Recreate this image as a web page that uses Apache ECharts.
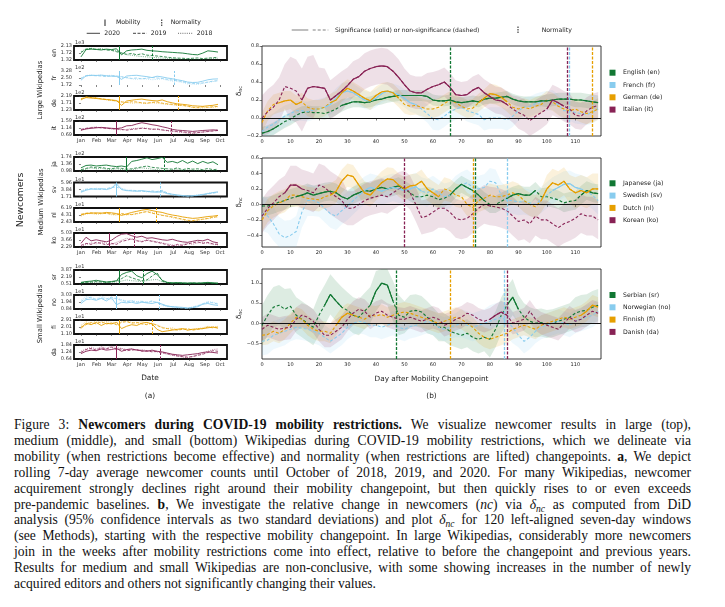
<!DOCTYPE html>
<html><head><meta charset="utf-8">
<script src="https://cdn.jsdelivr.net/npm/echarts@6/dist/echarts.min.js"></script>
<style>
html,body{margin:0;padding:0;background:#fff;}
#chart{position:absolute;left:0;top:0;width:725px;height:410px;}
#cap{position:absolute;left:14px;top:417px;width:677px;font-family:'Liberation Serif','DejaVu Serif',serif;font-size:13.6px;line-height:15.9px;color:#111;}
#cap div{text-align:justify;text-align-last:justify;}
#cap div.last{text-align-last:left;}
#cap sub{font-size:9.5px;line-height:0;vertical-align:-3px;}
</style></head>
<body>
<div id="chart"></div>
<div id="cap">
<div>Figure 3: <b>Newcomers during COVID-19 mobility restrictions.</b> We visualize newcomer results in large (top),</div>
<div>medium (middle), and small (bottom) Wikipedias during COVID-19 mobility restrictions, which we delineate via</div>
<div>mobility (when restrictions become effective) and normality (when restrictions are lifted) changepoints. <b>a</b>, We depict</div>
<div>rolling 7-day average newcomer counts until October of 2018, 2019, and 2020. For many Wikipedias, newcomer</div>
<div>acquirement strongly declines right around their mobility changepoint, but then quickly rises to or even exceeds</div>
<div>pre-pandemic baselines. <b>b</b>, We investigate the relative change in newcomers (<i>nc</i>) via <i>δ</i><sub><i>nc</i></sub> as computed from DiD</div>
<div>analysis (95% confidence intervals as two standard deviations) and plot <i>δ</i><sub><i>nc</i></sub> for 120 left-aligned seven-day windows</div>
<div>(see Methods), starting with the respective mobility changepoint. In large Wikipedias, considerably more newcomers</div>
<div>join in the weeks after mobility restrictions come into effect, relative to before the changepoint and previous years.</div>
<div>Results for medium and small Wikipedias are non-conclusive, with some showing increases in the number of newly</div>
<div class="last">acquired editors and others not significantly changing their values.</div>
</div>
<script>
// ---------- (a) rolling 7-day newcomer counts, sampled every 10 days from Jan 1 ----------
const sampleDays = [0,10,20,30,40,50,60,70,80,90,100,110,120,130,140,150,160,170,180,190,200,210,220,230,240,250,260,270];
const monthTicks = [0,31,60,91,121,152,182,213,244,274];
const monthNames = ['Jan','Feb','Mar','Apr','May','Jun','Jul','Aug','Sep','Oct'];

const en_2020 = [1.50,1.92,1.95,1.93,1.90,1.95,1.92,1.97,1.62,1.85,1.90,1.92,1.95,1.88,1.85,1.83,1.80,1.78,1.76,1.74,1.72,1.68,1.64,1.62,1.72,1.85,1.82,1.78];
const en_2019 = [1.75,1.95,1.98,1.93,1.95,1.90,1.88,1.80,1.72,1.65,1.70,1.62,1.68,1.60,1.58,1.55,1.52,1.48,1.45,1.43,1.42,1.40,1.42,1.44,1.40,1.43,1.45,1.48];
const en_2018 = [1.80,1.97,2.00,1.95,1.97,1.92,1.90,1.85,1.75,1.62,1.60,1.55,1.52,1.50,1.48,1.45,1.43,1.42,1.40,1.38,1.36,1.35,1.34,1.33,1.36,1.38,1.40,1.40];
const fr_2020 = [2.25,2.75,2.80,2.78,2.82,2.75,2.70,2.68,2.35,2.72,2.78,2.80,2.72,2.65,2.55,2.70,2.62,2.50,2.42,2.30,2.20,2.05,2.00,2.02,2.15,2.30,2.38,2.40];
const fr_2019 = [2.45,2.72,2.78,2.75,2.72,2.65,2.75,2.72,2.65,2.55,2.45,2.50,2.40,2.48,2.55,2.50,2.45,2.35,2.28,2.20,2.10,1.95,1.90,1.88,1.95,2.05,2.15,2.20];
const fr_2018 = [2.50,2.78,2.85,2.80,2.82,2.78,2.80,2.70,2.60,2.50,2.40,2.35,2.42,2.38,2.30,2.35,2.40,2.25,2.15,2.10,2.00,1.85,1.80,1.78,1.90,2.00,2.10,2.20];
const de_2020 = [1.95,2.08,2.05,2.02,1.98,1.95,1.92,1.88,1.55,1.85,1.90,1.95,1.98,1.92,1.88,1.85,1.92,1.80,1.72,1.65,1.62,1.58,1.52,1.50,1.48,1.52,1.55,1.62];
const de_2019 = [2.00,2.12,2.08,2.05,2.00,1.95,1.90,1.85,1.78,1.75,1.80,1.78,1.72,1.70,1.75,1.78,1.70,1.65,1.62,1.58,1.55,1.50,1.42,1.40,1.45,1.42,1.45,1.48];
const de_2018 = [1.90,2.15,2.10,2.08,1.98,1.92,1.88,1.82,1.80,1.75,1.70,1.72,1.70,1.68,1.72,1.70,1.65,1.62,1.58,1.55,1.52,1.48,1.40,1.36,1.38,1.40,1.42,1.45];
const it_2020 = [1.00,1.08,1.12,1.15,1.18,1.15,1.12,1.10,1.15,1.28,1.30,1.40,1.48,1.42,1.35,1.30,1.22,1.15,1.05,1.00,0.98,0.95,0.92,0.95,0.98,1.00,1.02,1.00];
const it_2019 = [1.05,1.12,1.15,1.18,1.15,1.12,1.10,1.08,1.05,1.00,1.05,1.08,1.12,1.10,1.05,1.08,1.02,0.98,0.95,0.92,0.90,0.85,0.82,0.85,0.88,0.92,0.95,0.98];
const it_2018 = [0.98,1.10,1.18,1.20,1.15,1.12,1.08,1.05,1.02,1.05,1.10,1.12,1.15,1.12,1.08,1.05,1.00,0.96,0.92,0.88,0.85,0.80,0.78,0.82,0.88,0.90,0.95,1.02];
const ja_2020 = [1.15,1.28,1.30,1.25,1.28,1.30,1.25,1.22,1.25,1.20,1.50,1.55,1.62,1.70,1.60,1.65,1.72,1.45,1.50,1.42,1.55,1.40,1.52,1.38,1.50,1.40,1.48,1.32];
const ja_2019 = [1.05,1.12,1.20,1.15,1.18,1.12,1.10,1.15,1.12,1.08,1.10,1.15,1.20,1.25,1.18,1.15,1.12,1.10,1.08,1.15,1.05,1.12,1.08,1.10,1.05,1.12,1.05,1.08];
const ja_2018 = [1.00,1.08,1.15,1.10,1.12,1.08,1.05,1.10,1.06,1.02,1.05,1.10,1.15,1.12,1.08,1.05,1.02,1.00,1.05,1.08,1.00,1.05,1.02,1.00,0.99,1.02,1.00,1.01];
const sv_2020 = [3.0,3.6,4.0,3.9,4.1,3.8,4.2,5.5,3.8,3.5,3.4,3.3,3.5,3.3,3.1,3.0,3.2,2.6,2.4,2.2,2.0,1.9,1.9,2.1,2.3,2.6,2.9,3.1];
const sv_2019 = [3.2,3.9,4.1,4.0,3.8,4.1,4.4,4.6,4.0,3.5,3.6,3.5,3.3,3.2,3.4,3.2,3.6,2.8,2.3,2.0,1.9,1.8,1.9,2.0,2.2,2.5,2.7,3.0];
const sv_2018 = [3.4,4.0,3.8,4.2,4.0,3.9,4.5,5.8,4.2,3.8,3.4,3.3,3.4,3.1,3.0,3.3,2.9,2.5,2.2,1.9,1.8,1.75,2.0,2.2,2.4,2.7,2.9,3.2];
const nl_2020 = [4.3,4.7,4.8,4.9,4.8,5.0,4.9,4.7,4.2,4.6,5.0,5.3,5.6,5.8,5.5,5.2,5.0,4.6,4.3,4.1,3.8,3.6,3.4,3.5,3.7,3.9,4.0,4.2];
const nl_2019 = [4.5,4.8,4.9,4.7,4.8,4.7,4.6,4.5,4.7,4.5,4.4,4.7,5.0,5.2,4.8,4.5,4.2,4.0,3.8,3.5,3.2,2.9,2.8,3.0,3.2,3.4,3.7,3.9];
const nl_2018 = [4.0,4.6,4.7,4.5,4.6,4.8,4.4,4.3,4.5,4.3,4.5,4.6,4.9,5.4,5.0,4.6,4.3,4.0,3.6,3.3,3.0,2.7,2.6,2.9,3.1,3.3,3.6,3.8];
const ko_2020 = [3.0,4.2,3.5,3.7,3.5,3.3,3.6,4.3,4.8,4.9,4.5,4.2,4.4,4.0,4.1,3.9,3.7,3.6,3.8,3.5,3.3,3.2,3.4,3.6,3.5,3.8,3.3,3.1];
const ko_2019 = [2.6,3.0,2.8,3.2,3.0,2.7,3.0,2.8,3.4,3.6,3.9,3.5,3.3,3.6,3.4,3.2,3.0,2.7,2.5,2.8,2.6,2.9,3.1,3.3,3.0,3.2,2.9,2.8];
const ko_2018 = [2.4,2.8,3.1,2.9,3.3,3.0,2.8,3.2,3.6,4.0,3.8,3.6,3.4,3.7,3.5,3.3,3.1,2.9,2.7,2.5,2.8,3.0,2.8,3.1,3.2,3.0,2.8,2.7];
const sr_2020 = [0.9,1.1,1.2,1.4,1.2,1.0,1.1,1.3,2.8,3.3,3.6,2.5,2.0,3.0,3.6,2.8,1.4,0.9,0.8,0.85,0.8,0.75,0.8,0.7,0.8,0.9,0.8,0.75];
const sr_2019 = [0.8,0.9,1.0,1.1,1.0,0.9,1.0,1.2,1.8,2.5,2.0,1.6,1.3,1.5,2.4,3.2,1.2,0.8,0.7,0.75,0.7,0.65,0.7,0.75,0.7,0.8,0.7,0.6];
const sr_2018 = [0.7,0.8,0.85,0.9,1.0,0.85,0.9,1.0,1.2,1.5,1.3,1.2,1.1,1.3,1.5,1.6,1.0,0.8,0.75,0.7,0.65,0.6,0.65,0.7,0.65,0.7,0.6,0.55];
const no_2020 = [1.7,2.3,2.4,2.2,2.5,2.1,2.6,1.5,1.9,1.8,1.9,1.7,1.9,1.8,1.7,1.9,1.6,1.3,1.2,1.15,1.1,1.0,1.05,1.2,1.6,1.7,1.5,1.4];
const no_2019 = [2.0,2.5,2.7,2.3,2.6,2.4,2.7,2.4,2.2,2.0,2.1,1.9,2.0,1.9,2.1,1.8,1.5,1.3,1.2,1.1,1.0,0.95,1.1,1.3,1.6,1.9,1.8,1.6];
const no_2018 = [2.2,2.8,2.6,2.4,2.9,2.5,2.3,2.6,2.3,2.1,2.2,2.0,2.1,1.8,2.0,1.9,1.4,1.2,1.1,1.0,0.95,0.9,1.2,1.4,1.7,2.0,1.9,1.7];
const fi_2020 = [1.8,2.5,2.3,2.6,2.2,2.5,2.4,2.6,1.8,2.1,2.3,2.2,2.5,2.6,2.4,1.7,1.4,1.5,1.6,1.7,1.8,1.6,1.7,1.75,1.8,1.9,2.0,1.85];
const fi_2019 = [2.0,2.3,2.6,2.4,2.7,2.4,2.5,2.3,2.6,2.7,2.5,2.6,2.4,2.3,2.5,2.2,1.9,1.8,1.7,1.6,1.7,1.8,1.6,1.7,1.8,2.0,1.9,2.0];
const fi_2018 = [2.2,2.7,2.4,2.8,2.5,2.7,2.6,2.5,2.7,2.8,2.6,2.5,2.7,2.5,2.4,2.3,2.0,1.8,1.9,1.7,1.8,1.6,1.75,1.8,1.9,2.1,2.0,2.1];
const da_2020 = [1.1,1.3,1.4,1.35,1.5,1.4,1.45,1.55,1.3,1.45,1.5,1.4,1.35,1.3,1.4,1.3,1.25,1.15,1.05,1.0,0.95,1.0,1.05,1.1,1.2,1.25,1.2,1.15];
const da_2019 = [1.2,1.45,1.55,1.4,1.6,1.5,1.65,1.45,1.5,1.35,1.4,1.45,1.3,1.35,1.25,1.3,1.2,1.1,1.0,0.9,0.85,0.8,0.85,0.95,1.05,1.2,1.35,1.3];
const da_2018 = [1.3,1.5,1.65,1.5,1.7,1.55,1.75,1.6,1.55,1.45,1.5,1.4,1.45,1.35,1.3,1.25,1.15,1.05,0.95,0.9,0.8,0.75,0.85,1.0,1.1,1.3,1.45,1.5];

// y tick labels (min, mid, max) and scale exponent of each small panel
const tk_en = ['1.32','1.72','2.13'], tk_fr = ['1.72','2.50','3.28'], tk_de = ['1.23','1.71','2.19'], tk_it = ['0.69','1.14','1.59'];
const tk_ja = ['0.98','1.36','1.74'], tk_sv = ['1.71','3.84','5.96'], tk_nl = ['2.43','4.31','6.19'], tk_ko = ['2.29','3.66','5.03'];
const tk_sr = ['0.51','2.19','3.87'], tk_no = ['0.84','1.94','3.03'], tk_fi = ['1.10','2.01','2.91'], tk_da = ['0.64','1.24','1.84'];
const codes = ['en','fr','de','it','ja','sv','nl','ko','sr','no','fi','da'];
const exps  = ['1e3','1e2','1e2','1e2','1e2','1e1','1e1','1e1','1e1','1e1','1e1','1e1'];
// day of year (2020) of mobility / normality changepoints
const mobDays  = [75,75,75,70,90,70,75,55,75,70,75,70];
const normDays = [141,183,191,177,165,156,149,105,122,155,141,156];

// ---------- (b) delta_nc for 120 windows (every 2nd day) ----------
const deltaDays = [0,2,4,6,8,10,12,14,16,18,20,22,24,26,28,30,32,34,36,38,40,42,44,46,48,50,52,54,56,58,
  60,62,64,66,68,70,72,74,76,78,80,82,84,86,88,90,92,94,96,98,100,102,104,106,108,110,112,114,116,118];
const d_en = [-0.17,-0.15,-0.12,-0.08,-0.04,-0.01,0.03,0.06,0.07,0.06, 0.06,0.05,0.07,0.10,0.14,0.16,0.18,0.18,0.17,0.18,
  0.20,0.21,0.23,0.24,0.25,0.25,0.25,0.25,0.25,0.24, 0.20,0.19,0.19,0.20,0.18,0.17,0.18,0.19,0.18,0.21,
  0.22,0.22,0.23,0.24,0.21,0.19,0.18,0.18,0.18,0.19, 0.19,0.20,0.21,0.21,0.21,0.20,0.20,0.19,0.18,0.17];
const d_fr = [-0.15,-0.10,-0.07,-0.02,0.02,0.05,0.08,0.08,0.07,0.09, 0.10,0.12,0.15,0.22,0.28,0.30,0.28,0.24,0.20,0.19,
  0.22,0.27,0.30,0.28,0.26,0.22,0.17,0.15,0.10,0.05, -0.01,-0.02,0.02,0.07,0.10,0.12,0.08,0.06,0.04,-0.02,
  0.00,0.00,0.00,-0.02,0.02,0.08,0.12,0.13,0.16,0.18, 0.19,0.20,0.15,0.08,0.08,0.06,0.05,0.04,0.06,0.10];
const d_de = [-0.05,0.08,0.15,0.17,0.19,0.20,0.15,0.18,0.12,0.10, 0.10,0.12,0.17,0.20,0.28,0.33,0.30,0.26,0.22,0.19,
  0.25,0.29,0.30,0.28,0.22,0.15,0.13,0.14,0.12,0.10, 0.10,0.12,0.16,0.20,0.17,0.13,0.10,0.11,0.17,0.22,
  0.27,0.26,0.23,0.18,0.12,0.10,0.12,0.10,0.13,0.15, 0.20,0.18,0.13,0.10,0.08,0.10,0.07,0.05,0.07,0.10];
const d_it = [0.00,0.07,0.12,0.20,0.35,0.33,0.30,0.20,0.33,0.35, 0.34,0.33,0.20,0.25,0.30,0.36,0.43,0.46,0.52,0.55,
  0.57,0.58,0.57,0.52,0.45,0.37,0.30,0.28,0.28,0.32, 0.35,0.37,0.40,0.34,0.26,0.25,0.26,0.31,0.34,0.28,
  0.24,0.20,0.19,0.15,0.10,0.06,0.03,-0.03,0.02,0.06, 0.10,0.20,0.17,0.13,0.10,0.03,0.02,0.08,0.12,0.14];
const d_ja = [-0.02,-0.02,0.00,0.03,0.05,0.08,0.10,0.12,0.15,0.12, 0.14,0.16,0.17,0.15,0.10,0.07,0.12,0.15,0.18,0.17,
  0.20,0.22,0.20,0.22,0.24,0.20,0.15,0.10,0.10,0.12, 0.10,0.06,0.08,0.12,0.20,0.26,0.22,0.18,0.12,0.05,
  0.00,0.00,0.04,0.08,0.12,0.14,0.12,0.12,0.18,0.10, 0.10,0.08,0.06,0.02,0.04,0.05,0.12,0.18,0.15,0.14];
const d_sv = [-0.12,-0.15,-0.25,-0.38,-0.43,-0.40,-0.35,-0.10,0.05,0.05, 0.02,-0.05,-0.12,-0.15,-0.08,-0.02,0.05,0.12,0.18,0.22,
  0.20,0.17,0.20,0.22,0.20,0.18,0.20,0.23,0.17,0.15, 0.20,0.15,0.10,0.12,0.20,0.25,0.28,0.22,0.20,0.22,
  0.30,0.28,0.12,0.05,0.05,0.03,0.04,0.02,0.00,0.06, 0.12,0.18,0.22,0.26,0.27,0.22,0.20,0.17,0.12,0.05];
const d_nl = [-0.20,-0.08,-0.02,0.02,0.05,0.12,0.12,0.10,0.08,0.07, 0.06,0.10,0.12,0.17,0.30,0.38,0.36,0.25,0.15,0.12,
  0.20,0.28,0.33,0.32,0.25,0.20,0.24,0.25,0.30,0.20, 0.15,0.10,0.20,0.18,0.12,0.10,0.00,-0.04,0.05,0.08,
  0.12,0.10,0.10,0.12,0.15,0.12,0.05,0.00,-0.03,0.05, 0.20,0.28,0.25,0.30,0.20,0.15,0.18,0.15,0.20,0.20];
const d_ko = [-0.15,-0.05,0.02,0.10,0.15,0.25,0.25,0.20,0.18,0.15, 0.25,0.22,0.15,0.10,0.05,-0.05,-0.05,0.00,0.05,0.08,
  0.10,0.12,0.10,0.15,0.20,0.22,0.15,0.00,-0.17,-0.15, -0.10,-0.05,-0.05,-0.10,-0.18,-0.20,-0.18,-0.12,-0.05,0.00,
  -0.02,-0.03,-0.05,-0.08,-0.15,-0.22,-0.20,-0.25,-0.15,-0.20, -0.20,-0.25,-0.30,-0.25,-0.22,-0.18,-0.12,-0.15,-0.15,-0.20];
const d_sr = [-0.05,0.20,0.40,0.45,0.35,0.42,0.20,0.10,0.00,-0.10, 0.20,0.45,0.72,0.55,0.40,0.32,0.20,0.15,0.30,0.45,
  0.80,1.00,0.95,0.55,0.20,0.15,0.30,0.32,0.28,0.15, 0.05,-0.10,-0.10,-0.20,-0.25,-0.30,-0.25,-0.35,-0.40,-0.35,
  -0.40,-0.15,0.20,0.45,0.65,0.35,0.15,0.05,0.00,0.02, -0.02,0.00,0.05,0.10,0.15,0.25,0.30,0.32,0.40,0.45];
const d_no = [-0.45,-0.42,-0.30,-0.25,-0.20,-0.15,-0.10,-0.12,-0.15,-0.20, -0.25,-0.35,-0.45,-0.35,-0.25,-0.10,0.00,0.05,0.02,-0.05,
  -0.05,-0.10,-0.05,0.00,-0.10,-0.15,-0.08,-0.05,0.00,0.05, 0.00,-0.10,-0.15,-0.10,-0.05,0.00,-0.05,-0.10,-0.05,0.00,
  0.05,0.10,0.15,0.05,-0.10,-0.30,-0.45,-0.35,-0.20,-0.10, -0.05,0.00,0.05,0.00,-0.05,0.05,0.10,0.15,0.20,0.30];
const d_fi = [-0.30,-0.28,-0.20,-0.25,-0.15,0.00,0.15,0.10,-0.05,-0.15, -0.20,-0.20,-0.25,-0.05,0.15,0.25,0.20,0.15,0.10,0.20,
  0.18,0.22,0.15,0.20,0.25,0.28,0.25,0.20,0.15,0.10, 0.05,0.00,0.05,0.10,0.15,0.10,0.00,-0.10,-0.25,-0.35,
  -0.40,-0.35,-0.30,-0.25,-0.15,-0.10,-0.05,-0.10,-0.15,-0.05, 0.00,0.05,0.10,0.15,0.10,0.15,0.20,0.30,0.45,0.40];
const d_da = [-0.15,-0.05,-0.10,-0.15,-0.12,-0.10,0.10,0.20,0.15,0.05, -0.15,-0.30,-0.30,-0.20,-0.10,0.10,0.25,0.35,0.30,0.15,
  0.25,0.30,0.20,0.15,0.10,0.10,0.15,0.10,0.05,0.10, 0.15,0.10,-0.05,0.00,0.10,0.15,0.25,0.20,0.10,0.05,
  0.10,0.20,0.28,0.20,0.00,0.05,0.10,0.30,0.10,0.00, -0.05,-0.10,-0.15,0.00,0.15,0.05,0.10,0.20,0.30,0.25];
// half width of 95% CI, per 10-day block
const hw_en = [0.07,0.07,0.07,0.06,0.06,0.06,0.06,0.06,0.06,0.06,0.07,0.08];
const hw_fr = [0.12,0.11,0.11,0.10,0.10,0.10,0.12,0.12,0.12,0.11,0.11,0.12];
const hw_de = [0.11,0.10,0.10,0.10,0.10,0.10,0.10,0.10,0.11,0.10,0.10,0.12];
const hw_it = [0.25,0.35,0.22,0.20,0.20,0.18,0.16,0.15,0.15,0.18,0.17,0.15];
const hw_ja = [0.12,0.12,0.12,0.11,0.11,0.11,0.11,0.11,0.11,0.11,0.12,0.12];
const hw_sv = [0.22,0.20,0.18,0.18,0.18,0.18,0.17,0.17,0.17,0.17,0.17,0.18];
const hw_nl = [0.15,0.15,0.15,0.15,0.15,0.15,0.15,0.15,0.15,0.15,0.18,0.20];
const hw_ko = [0.22,0.25,0.28,0.22,0.22,0.22,0.25,0.25,0.25,0.25,0.25,0.25];
const hw_sr = [0.50,0.45,0.50,0.45,0.50,0.40,0.35,0.35,0.45,0.35,0.35,0.40];
const hw_no = [0.35,0.30,0.30,0.30,0.30,0.30,0.30,0.35,0.40,0.30,0.30,0.30];
const hw_fi = [0.25,0.25,0.25,0.25,0.25,0.25,0.25,0.25,0.25,0.25,0.25,0.25];
const hw_da = [0.30,0.30,0.30,0.30,0.30,0.28,0.28,0.28,0.28,0.28,0.28,0.28];
// significant (solid) day ranges
const sig_en = [[0,6],[28,118]], sig_fr = [[22,54]], sig_de = [[6,14],[24,48],[76,86]], sig_it = [[14,86],[100,106]];
const sig_ja = [[12,50],[66,78],[86,96],[112,118]], sig_sv = [[34,56],[102,112]], sig_nl = [[24,62],[98,118]], sig_ko = [[8,14]];
const sig_sr = [[22,28],[38,46],[86,90]], sig_no = [], sig_fi = [[26,32],[112,118]], sig_da = [[80,86]];
// normality changepoint (days after mobility changepoint)
const norm_b = [66,108,116,107, 75,86,74,50, 47,85,66,86];
const langNames = ['English (en)','French (fr)','German (de)','Italian (it)','Japanese (ja)','Swedish (sv)','Dutch (nl)','Korean (ko)','Serbian (sr)','Norwegian (no)','Finnish (fi)','Danish (da)'];
const panelTicks = [[-0.2,0,0.2,0.4,0.6,0.8],[-0.4,-0.2,0,0.2,0.4,0.6],[-0.5,0,0.5,1.0]];
const panelRange = [[-0.2,0.8],[-0.55,0.6],[-0.89,1.35]];
const dayTicks = [0,10,20,30,40,50,60,70,80,90,100,110];

// ---------- build ----------
const colors = ['#117733','#88CCEE','#E69F00','#882255'];
const FONT = 'DejaVu Sans';
const yearsA = [[en_2020,en_2019,en_2018],[fr_2020,fr_2019,fr_2018],[de_2020,de_2019,de_2018],[it_2020,it_2019,it_2018],
  [ja_2020,ja_2019,ja_2018],[sv_2020,sv_2019,sv_2018],[nl_2020,nl_2019,nl_2018],[ko_2020,ko_2019,ko_2018],
  [sr_2020,sr_2019,sr_2018],[no_2020,no_2019,no_2018],[fi_2020,fi_2019,fi_2018],[da_2020,da_2019,da_2018]];
const ticksA = [tk_en,tk_fr,tk_de,tk_it,tk_ja,tk_sv,tk_nl,tk_ko,tk_sr,tk_no,tk_fi,tk_da];
const boxTops = [46,71,96,121, 157,182.5,208,233, 270,295,320,345];
const boxH = 14;

const grids=[], xAxes=[], yAxes=[], series=[], graphics=[];

codes.forEach((code,i)=>{
  const gi = grids.length;
  const col = colors[i%4];
  const border = code !== 'fr';
  grids.push({left:74, width:153, top:boxTops[i], height:boxH, show:border, borderColor:'#111', borderWidth:1.8, backgroundColor:'transparent'});
  const tk = ticksA[i];
  const lo = parseFloat(tk[0]), hi = parseFloat(tk[2]);
  const tv = [lo,(lo+hi)/2,hi];
  const isBottom = (i%4===3);
  xAxes.push({type:'value', gridIndex:gi, min:-13.7, max:287.7, axisLine:{show:false}, splitLine:{show:false},
    axisTick:{show:true, customValues:monthTicks, length:2, lineStyle:{color:'#333',width:0.6}},
    axisLabel:{show:isBottom, customValues:monthTicks, formatter:v=>monthNames[monthTicks.indexOf(v)], fontSize:5.2, margin:3, color:'#333', fontFamily:FONT}});
  yAxes.push({type:'value', gridIndex:gi, min:lo, max:hi, axisLine:{show:false}, splitLine:{show:false},
    axisTick:{show:true, customValues:tv, length:2, lineStyle:{color:'#333',width:0.6}},
    axisLabel:{customValues:tv, showMinLabel:true, showMaxLabel:true, formatter:v=>{const k=tv.findIndex(t=>Math.abs(t-v)<1e-7);return k>=0?tk[k]:'';}, fontSize:5, margin:2, color:'#333', fontFamily:FONT},
    name:code, nameLocation:'middle', nameRotate:90, nameGap:17, nameTextStyle:{fontSize:6.3, color:'#222', fontFamily:FONT}});
  const ys = yearsA[i];
  const mk = (arr)=>sampleDays.map((d,k)=>[d,arr[k]]);
  series.push({type:'line', xAxisIndex:gi, yAxisIndex:gi, data:mk(ys[2]), symbol:'none', silent:true, animation:false,
    lineStyle:{color:col, width:0.7, type:[1,1.2], opacity:0.8}});
  series.push({type:'line', xAxisIndex:gi, yAxisIndex:gi, data:mk(ys[1]), symbol:'none', silent:true, animation:false,
    lineStyle:{color:col, width:0.8, type:[3,1.5]}});
  series.push({type:'line', xAxisIndex:gi, yAxisIndex:gi, data:mk(ys[0]), symbol:'none', silent:true, animation:false,
    lineStyle:{color:col, width:0.9},
    markLine:{silent:true, symbol:['none','none'], label:{show:false}, animation:false,
      data:[{xAxis:mobDays[i], lineStyle:{type:'solid', color:col, width:1}},
            {xAxis:normDays[i], lineStyle:{type:[2.5,1.5], color:col, width:1}}]}});
  graphics.push({type:'text', x:75, y:boxTops[i]-3.2, style:{text:exps[i], fontSize:5, fontFamily:FONT, fill:'#333', align:'left', verticalAlign:'middle', textAlign:'left', textVerticalAlign:'middle'}});
});

const dArr = [d_en,d_fr,d_de,d_it,d_ja,d_sv,d_nl,d_ko,d_sr,d_no,d_fi,d_da];
const hwArr = [hw_en,hw_fr,hw_de,hw_it,hw_ja,hw_sv,hw_nl,hw_ko,hw_sr,hw_no,hw_fi,hw_da];
const sigArr = [sig_en,sig_fr,sig_de,sig_it,sig_ja,sig_sv,sig_nl,sig_ko,sig_sr,sig_no,sig_fi,sig_da];
const rTops = [46,158,269], rH = [90,89,90];
const fmtDelta = v => (v<0?'\u2212':'') + Math.abs(v).toFixed(1);

[0,1,2].forEach(p=>{
  const gi = grids.length;
  grids.push({left:262, width:339, top:rTops[p], height:rH[p], show:true, borderColor:'#222', borderWidth:0.9, backgroundColor:'transparent'});
  xAxes.push({type:'value', gridIndex:gi, min:0, max:119, axisLine:{show:false}, splitLine:{show:false},
    axisTick:{customValues:dayTicks, length:2.5, lineStyle:{color:'#222',width:0.6}},
    axisLabel:{customValues:dayTicks, fontSize:5, margin:3, color:'#222', fontFamily:FONT}});
  yAxes.push({type:'value', gridIndex:gi, min:panelRange[p][0], max:panelRange[p][1], axisLine:{show:false}, splitLine:{show:false},
    axisTick:{customValues:panelTicks[p], length:2.5, lineStyle:{color:'#222',width:0.6}},
    axisLabel:{customValues:panelTicks[p], formatter:fmtDelta, fontSize:5, margin:3, color:'#222', fontFamily:FONT},
    name:'{d|δ}{s|nc}', nameLocation:'middle', nameRotate:90, nameGap:10,
    nameTextStyle:{rich:{d:{fontSize:7, fontFamily:FONT, color:'#222'}, s:{fontSize:5, fontFamily:FONT, color:'#222', padding:[3,0,0,0]}}}});
  // bands
  for(let s=0;s<4;s++){
    const idx = p*4+s, vals = dArr[idx], hw = hwArr[idx], col = colors[s];
    series.push({type:'custom', xAxisIndex:gi, yAxisIndex:gi, silent:true, animation:false, z:1,
      data:[[deltaDays[0], vals[0]]],
      renderItem:(params, api)=>{
        const cs = params.coordSys;
        const up=[], lo=[];
        deltaDays.forEach((d,k)=>{
          const h = hw[Math.min(11,Math.floor(d/10))];
          up.push(api.coord([d, vals[k]+h]));
          lo.push(api.coord([d, vals[k]-h]));
        });
        const pts = up.concat(lo.reverse()).map(pt=>[pt[0], Math.max(cs.y, Math.min(cs.y+cs.height, pt[1]))]);
        return {type:'polygon', shape:{points:pts}, style:{fill:col, opacity:0.14}};
      }});
  }
  for(let s=0;s<4;s++){
    const idx = p*4+s, vals = dArr[idx], col = colors[s], sig = sigArr[idx];
    const ml = [{xAxis:norm_b[idx], lineStyle:{type:[3,1.5], color:col, width:1.3}}];
    if(s===0) ml.push({yAxis:0, lineStyle:{type:'solid', color:'#111', width:1.2}});
    series.push({type:'line', xAxisIndex:gi, yAxisIndex:gi, z:3, data:deltaDays.map((d,k)=>[d,vals[k]]), symbol:'none', silent:true, animation:false,
      lineStyle:{color:col, width:1.1, type:[3,2]},
      markLine:{silent:true, symbol:['none','none'], label:{show:false}, animation:false, data:ml}});
    const inSig = d => sig.some(r=>d>=r[0] && d<=r[1]);
    series.push({type:'line', xAxisIndex:gi, yAxisIndex:gi, z:4, data:deltaDays.map((d,k)=>[d, inSig(d)?vals[k]:'-']), connectNulls:false, symbol:'none', silent:true, animation:false,
      lineStyle:{color:col, width:1.2}});
    // legend
    const ly = [72.7,183.3,295][p] + s*12.3;
    graphics.push({type:'rect', shape:{x:609.5, y:ly-3, width:6, height:6}, style:{fill:col}});
    graphics.push({type:'text', x:623, y:ly, style:{text:langNames[idx], fontSize:6.2, fontFamily:FONT, fill:'#222', align:'left', verticalAlign:'middle', textAlign:'left', textVerticalAlign:'middle'}});
  }
});

function txt(t, x, y, fs, opts){
  const o = Object.assign({align:'left', rot:0, color:'#222'}, opts||{});
  graphics.push({type:'text', x:x, y:y, rotation:o.rot, style:{text:t, fontSize:fs, fontFamily:FONT, fill:o.color, align:o.align, verticalAlign:'middle', textAlign:o.align, textVerticalAlign:'middle'}});
}
function ln(x1,y1,x2,y2,color,w,dash){
  graphics.push({type:'line', shape:{x1,y1,x2,y2}, style:{stroke:color, lineWidth:w, lineDash:dash||null}});
}
// left legends
ln(105,19.5,105,26,'#444',1.2); txt('Mobility',116,22.7,6.2);
ln(161.7,19.5,161.7,26,'#444',1.2,[1.5,1]); txt('Normality',170.7,22.7,6.2);
ln(86.7,33.3,100,33.3,'#444',1); txt('2020',104.3,33.3,6.2);
ln(133,33.3,146.7,33.3,'#444',1,[3,1.5]); txt('2019',150.7,33.3,6.2);
ln(178,33.3,192.7,33.3,'#444',0.8,[1,1.2]); txt('2018',196.7,33.3,6.2);
// right top legend
ln(291.7,30,308.3,30,'#aaa',1.5); ln(312.7,30,328.3,30,'#aaa',1.5,[3,2]);
txt('Significance (solid) or non-significance (dashed)',335,30,6);
ln(518,26.5,518,33.5,'#666',1.5,[1.5,1]); txt('Normality',541.7,30,6.2);
// side labels
txt('Newcomers',20.5,200,9.3,{align:'center', rot:Math.PI/2});
txt('Large Wikipedias',40.5,90,6.9,{align:'center', rot:Math.PI/2});
txt('Medium Wikipedias',41,202,6.9,{align:'center', rot:Math.PI/2});
txt('Small Wikipedias',40.5,314,6.9,{align:'center', rot:Math.PI/2});
txt('Date',150,378.5,7.4,{align:'center'});
txt('(a)',150,396,7.4,{align:'center'});
txt('Day after Mobility Changepoint',431.5,379,7.3,{align:'center'});
txt('(b)',431.5,396,7.4,{align:'center'});

const chart = echarts.init(document.getElementById('chart'));
chart.setOption({
  animation:false,
  textStyle:{fontFamily:FONT},
  grid:grids, xAxis:xAxes, yAxis:yAxes, series:series, graphic:graphics
});
</script>
</body></html>
